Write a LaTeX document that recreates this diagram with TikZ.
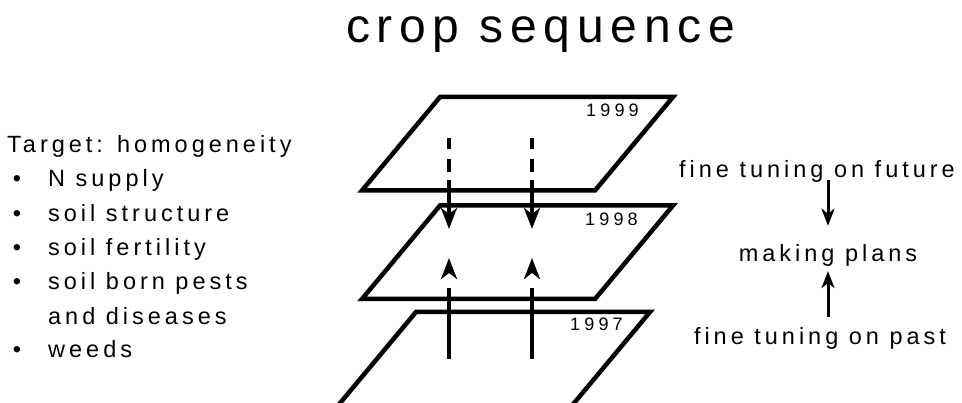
\documentclass[tikz,border=0pt]{standalone}
\usepackage{fontspec}
\setmainfont{Liberation Sans}
\newfontfamily\titlefont[LetterSpace=14]{Liberation Sans}
\newfontfamily\trackfont[LetterSpace=17]{Liberation Sans}
\newfontfamily\yearfont[LetterSpace=23]{Liberation Sans}
\usetikzlibrary{arrows.meta}

\tikzset{
  plane/.style={line width=4.5pt,line join=miter},
  listtext/.style={font=\trackfont\fontsize{23.5}{28}\selectfont,anchor=base west,inner sep=0pt},
  bullet/.style={font=\fontsize{23.5}{28}\selectfont,anchor=base,inner sep=0pt},
  yeartext/.style={font=\yearfont\fontsize{18}{21}\selectfont,anchor=base west,inner sep=0pt},
  flowarrow/.style={line width=4.2pt,-{Stealth[length=21pt,width=16pt,inset=6pt]}},
  planarrow/.style={line width=3pt,-{Stealth[length=17pt,width=13pt,inset=5pt]}},
}

\begin{document}
\begin{tikzpicture}[x=1pt,y=-1pt]
\useasboundingbox (0,0) rectangle (962,403);
\clip (0,0) rectangle (962,403);

\node (title) at (346,43) [font=\titlefont\fontsize{48}{56}\selectfont,anchor=base west,inner sep=0pt] {crop sequence};

% left list
\node (target) at (7,153) [listtext] {Target: homogeneity};
\node (dot1) at (17,187) [bullet] {•};
\node (nsupply) at (48,187) [listtext] {N supply};
\node (dot2) at (17,222) [bullet] {•};
\node (structure) at (48,222) [listtext] {soil structure};
\node (dot3) at (17,256) [bullet] {•};
\node (fertility) at (48,256) [listtext] {soil fertility};
\node (dot4) at (17,290) [bullet] {•};
\node (pests) at (48,290) [listtext] {soil born pests};
\node (diseases) at (48,325) [listtext] {and diseases};
\node (dot5) at (17,358) [bullet] {•};
\node (weeds) at (48,358) [listtext] {weeds};

% the three years, lowest first
\draw[plane] (416,312) -- (650,312) -- (568.3,410) -- (334.3,410) -- cycle;
\draw[plane] (440,205.5) -- (673,205.5) -- (595,299) -- (362,299) -- cycle;
\draw[plane] (440,97) -- (673,97) -- (595,190.5) -- (362,190.5) -- cycle;
\node (y1999) at (586,117) [yeartext] {1999};
\node (y1998) at (585,226) [yeartext] {1998};
\node (y1997) at (570,331) [yeartext] {1997};

% arrows between the years
\coordinate (futA) at (449,138);
\coordinate (futB) at (532,138);
\coordinate (nowA) at (449,229);
\coordinate (nowB) at (532,229);
\coordinate (pastA) at (449,359);
\coordinate (pastB) at (532,359);
\coordinate (upA) at (449,258);
\coordinate (upB) at (532,258);
\draw[flowarrow,dash pattern=on 11pt off 10pt on 13pt off 8pt on 200pt] (futA) -- (nowA);
\draw[flowarrow,dash pattern=on 11pt off 10pt on 13pt off 8pt on 200pt] (futB) -- (nowB);
\draw[flowarrow,dash pattern=on 71pt off 200pt] (pastA) -- (upA);
\draw[flowarrow,dash pattern=on 71pt off 200pt] (pastB) -- (upB);

% right side
\node (future) at (817,178) [listtext,anchor=base] {fine tuning on future};
\node (plans) at (828,262) [listtext,anchor=base] {making plans};
\node (past) at (820,345) [listtext,anchor=base] {fine tuning on past};
\draw[planarrow,shorten <=-3pt,shorten >=19pt] (future.south -| plans.north) -- (plans.north);
\draw[planarrow,shorten <=11pt,shorten >=4pt] (past.north -| plans.south) -- (plans.south);
\end{tikzpicture}
\end{document}
